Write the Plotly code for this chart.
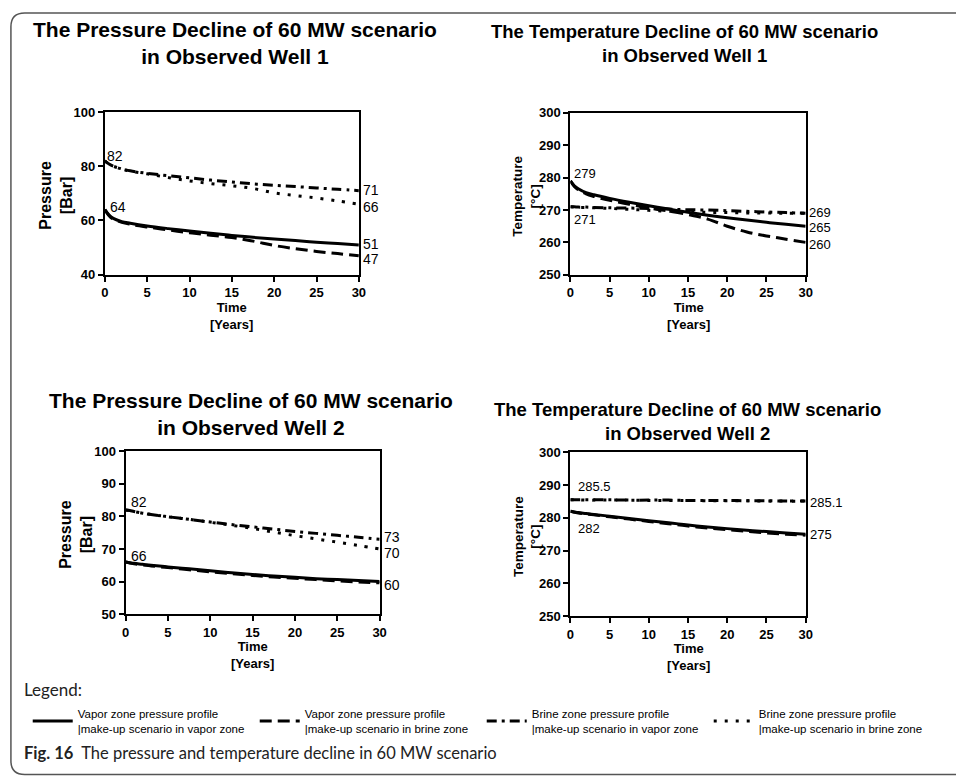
import plotly.graph_objects as go

# ---------------------------------------------------------------
# Simulation results, 60 MW scenario (time in years)
# ---------------------------------------------------------------
years = [0, 0.5, 1, 2, 3, 5, 7.5, 10, 12.5, 15, 17.5, 20, 22.5, 25, 27.5, 30]

# Observed Well 1 - pressure [Bar]
w1_pres_vapor_mk_vapor = [64, 62.0, 60.8, 59.6, 59.0, 58.0, 57.0, 56.1, 55.3, 54.5, 53.8, 53.2, 52.6, 52.0, 51.5, 51]
w1_pres_vapor_mk_brine = [64, 61.8, 60.5, 59.3, 58.6, 57.6, 56.5, 55.5, 54.6, 53.7, 52.4, 50.8, 49.6, 48.6, 47.8, 47]
w1_pres_brine_mk_vapor = [82, 80.8, 80.0, 79.0, 78.3, 77.4, 76.5, 75.7, 74.9, 74.2, 73.5, 73.0, 72.5, 72.0, 71.5, 71]
w1_pres_brine_mk_brine = [82, 80.8, 80.0, 79.0, 78.2, 77.2, 75.8, 74.6, 73.6, 72.8, 71.8, 70.2, 69.2, 68.3, 67.2, 66]

# Observed Well 1 - temperature [deg C]
w1_temp_vapor_mk_vapor = [279, 277.5, 276.6, 275.4, 274.7, 273.6, 272.4, 271.3, 270.3, 269.3, 268.4, 267.6, 266.9, 266.2, 265.6, 265]
w1_temp_vapor_mk_brine = [279, 277.3, 276.3, 275.0, 274.2, 273.0, 271.8, 270.6, 269.7, 268.6, 267.2, 265.0, 263.2, 262.0, 261.0, 260]
w1_temp_brine_mk_vapor = [271, 271.0, 270.9, 270.9, 270.8, 270.7, 270.6, 270.5, 270.3, 270.1, 270.0, 269.8, 269.6, 269.4, 269.2, 269]
w1_temp_brine_mk_brine = [271, 270.9, 270.8, 270.8, 270.7, 270.5, 270.2, 269.9, 269.6, 269.4, 269.3, 269.2, 269.1, 269.1, 269.0, 269]

# Observed Well 2 - pressure [Bar]
w2_pres_vapor_mk_vapor = [66, 65.8, 65.6, 65.3, 65.0, 64.5, 63.9, 63.3, 62.7, 62.2, 61.7, 61.3, 60.9, 60.6, 60.3, 60]
w2_pres_vapor_mk_brine = [66, 65.7, 65.5, 65.1, 64.8, 64.3, 63.6, 63.0, 62.4, 61.9, 61.4, 61.0, 60.6, 60.2, 59.9, 59.6]
w2_pres_brine_mk_vapor = [82, 81.8, 81.5, 81.0, 80.6, 79.9, 79.1, 78.3, 77.5, 76.8, 76.1, 75.4, 74.8, 74.2, 73.6, 73]
w2_pres_brine_mk_brine = [82, 81.8, 81.5, 81.0, 80.6, 79.9, 79.1, 78.2, 77.3, 76.3, 75.2, 74.1, 73.1, 72.1, 71.1, 70]

# Observed Well 2 - temperature [deg C]
w2_temp_vapor_mk_vapor = [282, 281.8, 281.6, 281.3, 281.0, 280.5, 279.8, 279.1, 278.5, 277.8, 277.2, 276.7, 276.2, 275.8, 275.4, 275]
w2_temp_vapor_mk_brine = [282, 281.7, 281.5, 281.2, 280.9, 280.3, 279.6, 278.9, 278.2, 277.5, 276.9, 276.4, 275.9, 275.4, 275.0, 274.7]
w2_temp_brine_mk_vapor = [285.5, 285.5, 285.5, 285.5, 285.5, 285.5, 285.4, 285.4, 285.4, 285.3, 285.3, 285.3, 285.2, 285.2, 285.1, 285.1]
w2_temp_brine_mk_brine = [285.5, 285.5, 285.5, 285.4, 285.4, 285.4, 285.4, 285.3, 285.3, 285.3, 285.2, 285.2, 285.2, 285.1, 285.1, 285.1]

legend_names = [
    "Vapor zone pressure profile<br>|make-up scenario in vapor zone",
    "Vapor zone pressure profile<br>|make-up scenario in brine zone",
    "Brine zone pressure profile<br>|make-up scenario in vapor zone",
    "Brine zone pressure profile<br>|make-up scenario in brine zone",
]

panel_titles = [
    "The Pressure Decline of 60 MW scenario<br>in Observed Well 1",
    "The Temperature Decline of 60 MW scenario<br>in Observed Well 1",
    "The Pressure Decline of 60 MW scenario<br>in Observed Well 2",
    "The Temperature Decline of 60 MW scenario<br>in Observed Well 2",
]

# ---------------------------------------------------------------
# Layout helpers (pixel -> paper fraction, figure is 956 x 782)
# ---------------------------------------------------------------
W, H = 956, 782
FONT = "Liberation Sans, Arial, sans-serif"
CAPTION_FONT = "Lato, Open Sans, Liberation Sans, sans-serif"


def fx(p):
    return p / W


def fy(p):
    return 1 - p / H


# line styles: solid, dashed, dash-dot, dotted
DASHES = ["solid", "12px,6px", "10px,5px,3px,5px", "3px,8px"]
LW = 3

panels = [
    dict(ax="", dom_x=(102, 359), dom_y=(107, 273), yr=(40, 100), dy=20,
         series=[w1_pres_vapor_mk_vapor, w1_pres_vapor_mk_brine,
                 w1_pres_brine_mk_vapor, w1_pres_brine_mk_brine],
         ytitle="Pressure<br>[Bar]", ytitle_size=16, ytitle_x=53,
         title_xy=(234, 37), title_size=21, label_size=14,
         # (series index, start/end, xshift, yshift)
         labels=[(2, 0, 1, 5), (0, 0, 4, 3), (2, -1, 3, 1), (3, -1, 3, -3),
                 (0, -1, 3, 1), (1, -1, 3, -3)]),
    dict(ax="2", dom_x=(573, 811), dom_y=(108, 273), yr=(250, 300), dy=10,
         series=[w1_temp_vapor_mk_vapor, w1_temp_vapor_mk_brine,
                 w1_temp_brine_mk_vapor, w1_temp_brine_mk_brine],
         ytitle="Temperature<br>[°C]", ytitle_size=13.5, ytitle_x=529,
         title_xy=(688, 37), title_size=18.5, label_size=13,
         labels=[(0, 0, 3, 7), (2, 0, 3, -13), (2, -1, 2, 1), (0, -1, 2, -1),
                 (1, -1, 2, -2)]),
    dict(ax="3", dom_x=(123, 380), dom_y=(453, 619), yr=(50, 100), dy=10,
         series=[w2_pres_vapor_mk_vapor, w2_pres_vapor_mk_brine,
                 w2_pres_brine_mk_vapor, w2_pres_brine_mk_brine],
         ytitle="Pressure<br>[Bar]", ytitle_size=16, ytitle_x=73,
         title_xy=(250, 415), title_size=21, label_size=14,
         labels=[(2, 0, 4, 8), (0, 0, 4, 6), (2, -1, 3, 2), (3, -1, 3, -4),
                 (0, -1, 3, -3)]),
    dict(ax="4", dom_x=(573, 811), dom_y=(454, 621), yr=(250, 300), dy=10,
         series=[w2_temp_vapor_mk_vapor, w2_temp_vapor_mk_brine,
                 w2_temp_brine_mk_vapor, w2_temp_brine_mk_brine],
         ytitle="Temperature<br>[°C]", ytitle_size=13.5, ytitle_x=529,
         title_xy=(691, 423), title_size=18.5, label_size=13,
         labels=[(2, 0, 7, 13), (0, 0, 7, -17), (2, -1, 3, -1), (0, -1, 3, 0)]),
]

fig = go.Figure()
annotations = []
layout_axes = {}

for i, pnl in enumerate(panels):
    xa, ya = "x" + pnl["ax"], "y" + pnl["ax"]
    # dotted first so the solid line sits on top
    for k in [3, 2, 1, 0]:
        fig.add_trace(go.Scatter(
            x=years, y=pnl["series"][k], xaxis=xa, yaxis=ya,
            mode="lines", line=dict(color="black", width=LW, dash=DASHES[k], shape="spline"),
            name=legend_names[k], legendrank=k + 1, showlegend=(i == 0),
            hoverinfo="x+y",
        ))

    axis_common = dict(
        showline=True, linecolor="black", linewidth=2, mirror=True,
        ticks="outside", ticklen=5, tickwidth=2, tickcolor="black",
        showgrid=False, zeroline=False,
        tickfont=dict(family=FONT, size=13, color="black", weight="bold"),
    )
    layout_axes["xaxis" + pnl["ax"]] = dict(
        axis_common, domain=[fx(pnl["dom_x"][0]), fx(pnl["dom_x"][1])],
        range=[0, 30], dtick=5, tick0=0, anchor=ya)
    layout_axes["yaxis" + pnl["ax"]] = dict(
        axis_common, domain=[fy(pnl["dom_y"][1]), fy(pnl["dom_y"][0])],
        range=list(pnl["yr"]), dtick=pnl["dy"], tick0=pnl["yr"][0], anchor=xa)

    # value labels at the start and end of the curves
    for (k, end, xs, ys) in pnl["labels"]:
        val = pnl["series"][k][end]
        annotations.append(dict(
            x=years[end], y=val, xref=xa, yref=ya, text=f"{val:g}",
            showarrow=False, xanchor="left", yanchor="middle",
            xshift=xs, yshift=ys, borderpad=0,
            font=dict(family=FONT, size=pnl["label_size"], color="black")))

    # panel title
    tx, ty = pnl["title_xy"]
    annotations.append(dict(
        x=fx(tx), y=fy(ty), xref="paper", yref="paper", text=panel_titles[i],
        showarrow=False, xanchor="center", yanchor="middle",
        font=dict(family=FONT, size=pnl["title_size"], color="black", weight="bold")))

    # y-axis title
    cy = (pnl["dom_y"][0] + pnl["dom_y"][1]) / 2 + 2
    annotations.append(dict(
        x=fx(pnl["ytitle_x"]), y=fy(cy), xref="paper", yref="paper",
        text=pnl["ytitle"], textangle=-90, showarrow=False,
        xanchor="center", yanchor="middle",
        font=dict(family=FONT, size=pnl["ytitle_size"], color="black", weight="bold")))

    # x-axis title
    cx = (pnl["dom_x"][0] + pnl["dom_x"][1]) / 2
    annotations.append(dict(
        x=fx(cx), y=fy(pnl["dom_y"][1] + 42), xref="paper", yref="paper",
        text="Time<br>[Years]", showarrow=False, xanchor="center", yanchor="middle",
        font=dict(family=FONT, size=13, color="black", weight="bold")))

annotations.append(dict(
    x=fx(18), y=fy(696), xref="paper", yref="paper", text="Legend:",
    showarrow=False, xanchor="left", yanchor="middle",
    font=dict(family=CAPTION_FONT, size=17, color="#222")))

annotations.append(dict(
    x=fx(18), y=fy(761), xref="paper", yref="paper",
    text="<b>Fig. 16</b>  The pressure and temperature decline in 60 MW scenario",
    showarrow=False, xanchor="left", yanchor="middle",
    font=dict(family=CAPTION_FONT, size=16.5, color="#222")))

# rounded frame around the figure
x0, y0, x1, y1, r = 7, 6, 975, 782.5, 14
frame = (f"M {fx(x0 + r)},{fy(y0)} L {fx(x1)},{fy(y0)} L {fx(x1)},{fy(y1)} "
         f"L {fx(x0 + r)},{fy(y1)} Q {fx(x0)},{fy(y1)} {fx(x0)},{fy(y1 - r)} "
         f"L {fx(x0)},{fy(y0 + r)} Q {fx(x0)},{fy(y0)} {fx(x0 + r)},{fy(y0)} Z")

fig.update_layout(
    width=W, height=H, autosize=False,
    margin=dict(l=0, r=0, t=0, b=0),
    paper_bgcolor="white", plot_bgcolor="white",
    font=dict(family=FONT, color="black"),
    annotations=annotations,
    shapes=[dict(type="path", path=frame, xref="paper", yref="paper",
                 line=dict(color="#555", width=1.5), layer="below")],
    legend=dict(
        orientation="h", x=fx(24), y=fy(728), xanchor="left", yanchor="middle",
        font=dict(family=FONT, size=11.5, color="black"),
        entrywidth=172, entrywidthmode="pixels", traceorder="normal",
        bgcolor="rgba(0,0,0,0)", itemwidth=40, valign="middle",
    ),
    showlegend=True,
    **layout_axes,
)

fig.write_html("out.html")
